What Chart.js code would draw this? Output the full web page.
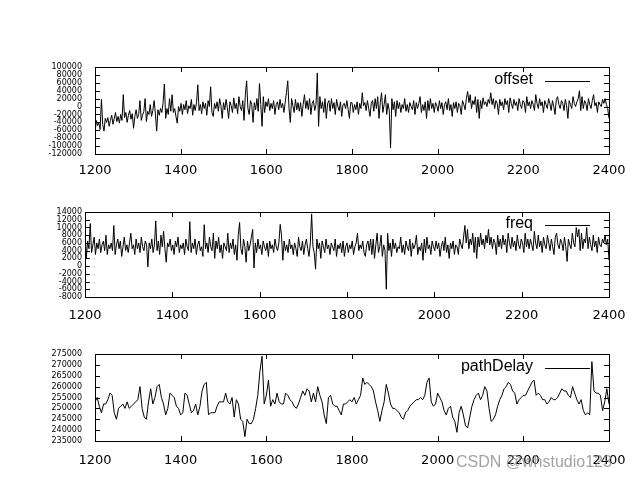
<!DOCTYPE html>
<html>
<head>
<meta charset="utf-8">
<script src="https://cdn.jsdelivr.net/npm/chart.js@4.4.1/dist/chart.umd.min.js"></script>
<style>
  html, body { margin: 0; padding: 0; background: #fff; }
  body { width: 640px; height: 480px; position: relative; overflow: hidden; }
  canvas { position: absolute; left: 0; }
  #mark { position: absolute; left: 456px; top: 453px; font: 16px "Liberation Sans", Arial, sans-serif; color: rgba(140,140,140,0.8); white-space: nowrap; }
</style>
</head>
<body>
<canvas id="c1" width="640" height="150" style="top:40px"></canvas>
<canvas id="c2" width="640" height="145" style="top:190px"></canvas>
<canvas id="c3" width="640" height="145" style="top:335px"></canvas>
<div id="mark">CSDN @whstudio123</div>
<script>
// x axis runs 1200..2400; offset/freq sampled every 3 units, pathDelay every 5
const xStart = 1200;
const xRange = [1200, 2400], xTickStep = 200;

const offsetRange = [-120000, 100000], offsetStep = 20000;
const freqRange = [-8000, 14000], freqStep = 2000;
const delayRange = [235000, 275000], delayStep = 5000;

const offsetVals = [
  -70000, -35000, -48000, -42000, -58000, 18000, -45000, -62000, -30000, -40000, -28000, -50000, -35000, -22000, -45000, -30000, -15000, -38000, -25000, -42000,
  -20000, -35000, 30000, -28000, -15000, -40000, -22000, -10000, -32000, -18000, -55000, -25000, -8000, -30000, -20000, 15000, -35000, -22000, -12000, 20000,
  -38000, -12000, -20000, 5000, -25000, -10000, 15000, -18000, -62000, -8000, -22000, -5000, -15000, 10000, 57000, -30000, -5000, -20000, 20000, -12000,
  30000, -15000, -5000, -25000, -42000, 0, -12000, 8000, -20000, 5000, -8000, 15000, -18000, 2000, -5000, 18000, -22000, 5000, -10000, 10000,
  55000, -10000, 5000, -18000, 12000, -5000, 8000, -22000, 15000, 0, 50000, -15000, -25000, 8000, -5000, 12000, -12000, 20000, 2000, -30000,
  10000, -8000, 18000, -3000, -30000, 12000, 2000, -15000, 22000, -5000, 8000, -18000, 25000, 0, -10000, 15000, -35000, 30000, 65000, -5000,
  -20000, 15000, 5000, -40000, 10000, -8000, 20000, -12000, 58000, 5000, -50000, 25000, -15000, 12000, 0, 20000, -10000, 8000, -5000, 15000,
  -20000, 5000, 12000, -8000, 18000, -3000, 8000, -15000, 10000, 35000, 65000, -5000, -40000, 20000, 2000, -15000, 18000, -8000, 10000, -12000,
  10000, -25000, 5000, 30000, -5000, 15000, -8000, 20000, -20000, 8000, 15000, -10000, 5000, 85000, -50000, 25000, -5000, 12000, -15000, 20000,
  -30000, 8000, 15000, -12000, 20000, -5000, 10000, -20000, 18000, 0, -10000, 12000, -25000, 5000, 8000, -5000, 15000, -8000, -30000, 10000,
  10000, -15000, 5000, -8000, 12000, -20000, 8000, -5000, 35000, 2000, 10000, -10000, 15000, -5000, -25000, 8000, 15000, -12000, 20000, -5000,
  25000, -30000, 10000, 35000, -15000, 5000, 30000, -20000, 8000, -10000, -105000, 20000, -8000, 12000, -25000, 15000, -5000, 10000, -15000, 5000,
  -5000, 20000, -12000, 5000, -15000, 10000, 0, -8000, 15000, -20000, 10000, -5000, 8000, 25000, -15000, 5000, -10000, 12000, -30000, 15000,
  -10000, 20000, -5000, 8000, -15000, 10000, 2000, -12000, 15000, -5000, 10000, -20000, 5000, 12000, -8000, 20000, -10000, 5000, -25000, 10000,
  -5000, 12000, -15000, 8000, 2000, -20000, 15000, 5000, -8000, 20000, 38000, 10000, 30000, -5000, 15000, 5000, 25000, -15000, 18000, -30000,
  15000, -5000, 22000, 5000, 12000, 0, 18000, 8000, 35000, 5000, 20000, -5000, 15000, 8000, -20000, 18000, 2000, 12000, -8000, 20000,
  5000, 15000, -15000, 22000, 8000, -5000, 18000, 3000, 12000, -10000, 20000, 5000, -5000, 15000, 10000, -15000, 25000, 2000, 12000, -5000,
  15000, 5000, -10000, 30000, 8000, -5000, 20000, 2000, 12000, -15000, 15000, 5000, -5000, 20000, 8000, -10000, 15000, 0, -20000, 18000,
  25000, 5000, -5000, 15000, 8000, -10000, 18000, 2000, -30000, 15000, 5000, -5000, 25000, 8000, 0, 12000, 20000, 40000, -10000, 25000,
  -5000, 15000, 8000, -10000, 20000, 5000, -5000, 15000, 30000, 2000, 10000, -15000, 12000, 5000, 0, 18000, 8000, 20000, 5000, -5000,
  -30000
];

const freqVals = [
  9500, 2000, 6500, 4500, 11000, 3500, 5500, 7500, 3000, 6000, 4500, 7000, 3500, 5500, 6500, 4000, 8000, 3000, 5500, 4500,
  6000, 4000, 10500, 3000, 5500, 7000, 4500, 6500, 2500, 5000, 7500, 4000, 5500, 3500, 6000, 8500, 4500, 5500, 3000, 7000,
  4500, 6000, 3500, 7500, 5000, 4000, 6500, 5500, -200, 6000, 4500, 7000, 3500, 5500, 11700, 4000, 6500, 3000, 8000, 5000,
  9000, 4500, 1000, 6000, 5000, 7000, 4000, 5500, 3000, 6500, 5000, 7500, 3500, 5500, 4500, 6000, 3000, 7000, 5000, 4000,
  11500, 3500, 6000, 4500, 7000, 3000, 5500, 6500, 4000, 5000, 2500, 10700, 4500, 6000, 3500, 7500, 5000, 4000, 8500, 2000,
  6500, 4500, 7500, 3500, 5500, 2000, 6000, 5000, 4000, 8500, 3500, 6000, 4500, 7000, 3000, 5500, 1500, 8000, 11300, 4500,
  3000, 7000, 5000, 1000, 6500, 4000, 5500, 7500, 9500, -500, 6000, 3500, 7000, 4500, 5500, 3000, 6500, 5000, 4000, 6000,
  2500, 6500, 4500, 5500, 3500, 7000, 5000, 4000, 6000, 10800, 8000, 1500, 6500, 4000, 5500, 3500, 7000, 4500, 5500, 3000,
  6000, 4500, 2500, 7500, 5000, 4000, 6500, 3000, 5500, 7000, 4500, 2500, 6000, 13500, 5000, 3500, -800, 7000, 4500, 6000,
  2000, 6500, 5000, 3500, 7000, 4500, 5500, 3000, 6000, 5000, 4000, 7000, 2500, 5500, 4500, 6000, 3500, 6500, 2500, 5000,
  6000, 3500, 5500, 4500, 6500, 3000, 5000, 6000, 8500, 4000, 5500, 4500, 6500, 3500, 2500, 5500, 6500, 4000, 7000, 3000,
  7000, 2000, 5500, 8500, 3500, 5000, 8000, 2500, 5500, 4000, -6000, 8500, 4000, 6000, 2500, 7000, 4500, 6000, 3500, 5000,
  4500, 7500, 3500, 5500, 3000, 6500, 5000, 4000, 7000, 2500, 6000, 4500, 5500, 8000, 3000, 5000, 4000, 6000, 1500, 7000,
  3500, 7500, 4500, 5500, 3000, 6500, 5000, 4000, 6500, 4500, 6000, 2500, 5000, 6500, 4000, 7500, 3500, 5500, 2000, 6000,
  4500, 6500, 3000, 5500, 5000, 3000, 7000, 5500, 4500, 7500, 10500, 6000, 9500, 4500, 7000, 5500, 8500, 3500, 7500, 2000,
  7500, 5000, 8500, 5500, 7000, 4500, 8000, 6000, 9500, 5500, 7500, 4500, 7000, 6000, 3000, 8000, 5000, 7000, 4500, 8000,
  5500, 7000, 3500, 8500, 6000, 4500, 7500, 5000, 6500, 4000, 8000, 5500, 4500, 7000, 6000, 3500, 8500, 5000, 7000, 4500,
  7000, 5500, 4000, 9000, 6000, 4500, 8000, 5000, 6500, 3500, 7500, 5500, 4500, 8000, 6000, 4000, 7000, 5000, 3000, 7500,
  8500, 5500, 4500, 7000, 6000, 4000, 7500, 5000, 1200, 7000, 5500, 4500, 8500, 6000, 5000, 10000, 7500, 9500, 4000, 8500,
  4500, 7000, 6000, 10000, 4500, 7500, 5500, 4000, 8000, 5000, 6500, 3500, 7500, 5500, 5000, 7000, 6000, 8000, 5500, 7000,
  1500
];

const delayVals = [
  253000, 255000, 251000, 248000, 252000, 252000, 254000, 257000, 256000, 248000,
  245000, 250000, 251000, 252000, 250000, 253000, 250000, 251000, 252000, 253000,
  254000, 260000, 250000, 246000, 245000, 253000, 259000, 252000, 255000, 260000,
  261000, 255000, 252000, 247000, 250000, 257000, 256000, 255000, 251000, 250000,
  247000, 248000, 257000, 256000, 252000, 248000, 249000, 252000, 247000, 251000,
  258000, 261000, 262000, 247000, 248000, 248000, 248000, 251000, 253000, 253000,
  253000, 257000, 253000, 252000, 255000, 246000, 254000, 252000, 245000, 244000,
  237000, 245000, 243000, 243000, 245000, 250000, 256000, 267000, 274000, 252000,
  256000, 263000, 251000, 254000, 252000, 257000, 253000, 252000, 252000, 257000,
  256000, 254000, 253000, 251000, 250000, 252000, 255000, 258000, 256000, 259000,
  258000, 253000, 257000, 253000, 260000, 256000, 253000, 247000, 243000, 255000,
  256000, 252000, 251000, 251000, 249000, 247000, 252000, 252000, 253000, 254000,
  253000, 255000, 252000, 254000, 256000, 264000, 261000, 262000, 261000, 260000,
  258000, 253000, 249000, 244000, 249000, 253000, 261000, 257000, 252000, 250000,
  250000, 249000, 248000, 246000, 245000, 248000, 249000, 251000, 252000, 253000,
  254000, 254000, 255000, 254000, 256000, 262000, 264000, 253000, 251000, 252000,
  257000, 255000, 253000, 249000, 247000, 250000, 251000, 246000, 244000, 239000,
  248000, 251000, 247000, 242000, 241000, 246000, 251000, 254000, 256000, 257000,
  254000, 256000, 260000, 258000, 250000, 244000, 245000, 247000, 251000, 254000,
  256000, 259000, 260000, 262000, 261000, 258000, 257000, 252000, 254000, 255000,
  256000, 256000, 258000, 260000, 262000, 263000, 256000, 257000, 256000, 254000,
  254000, 252000, 253000, 255000, 254000, 254000, 255000, 257000, 259000, 258000,
  258000, 256000, 255000, 260000, 257000, 254000, 252000, 254000, 249000, 247000,
  248000, 247000, 271500, 258000, 257000, 257000, 256000, 249000, 253000, 259000,
  252000
];

function pts(vals, step) {
  return vals.map((v, i) => ({ x: xStart + i * step, y: v }));
}

// gnuplot style frame: full box with ticks pointing inwards, legend in the corner
const frame = {
  id: 'frame',
  afterDraw(c, args, o) {
    const { ctx, chartArea: a, scales: { x, y } } = c;
    ctx.save();
    ctx.strokeStyle = '#000';
    ctx.lineWidth = 1;
    ctx.strokeRect(a.left + .5, a.top + .5, a.right - a.left, a.bottom - a.top);
    ctx.beginPath();
    x.ticks.forEach(t => {
      const p = Math.round(x.getPixelForValue(t.value)) + .5;
      ctx.moveTo(p, a.bottom); ctx.lineTo(p, a.bottom - 5);
      ctx.moveTo(p, a.top); ctx.lineTo(p, a.top + 5);
    });
    y.ticks.forEach(t => {
      const p = Math.round(y.getPixelForValue(t.value)) + .5;
      ctx.moveTo(a.left, p); ctx.lineTo(a.left + 5, p);
      ctx.moveTo(a.right, p); ctx.lineTo(a.right - 5, p);
    });
    ctx.stroke();
    const ly = a.top + o.dy;
    ctx.font = '16px "Liberation Sans", Arial, sans-serif';
    ctx.fillStyle = '#000';
    ctx.textAlign = 'right';
    ctx.textBaseline = 'middle';
    ctx.fillText(c.data.datasets[0].label, 533, ly);
    ctx.beginPath();
    ctx.moveTo(545, Math.round(ly) + 1.5); ctx.lineTo(590, Math.round(ly) + 1.5);
    ctx.stroke();
    ctx.restore();
  }
};

function panel(id, label, vals, step, range, yStep, cfg) {
  const el = document.getElementById(id);
  return new Chart(el, {
    type: 'line',
    data: { datasets: [{ label: label, data: pts(vals, step), borderColor: '#000', borderWidth: 1, pointRadius: 0, tension: 0, fill: false }] },
    options: {
      responsive: false, animation: false, devicePixelRatio: 1,
      layout: { padding: { top: cfg.top, right: 31, left: 0, bottom: 0 } },
      plugins: { legend: { display: false }, tooltip: { enabled: false }, frame: { dy: cfg.dy } },
      scales: {
        x: {
          type: 'linear', min: xRange[0], max: xRange[1],
          grid: { display: false, drawTicks: false }, border: { display: false },
          ticks: { stepSize: xTickStep, padding: cfg.xpad, color: '#000', maxRotation: 0, autoSkip: false,
            font: { family: 'DejaVu Sans', size: 13 }, callback: v => String(v) },
          afterFit: s => { s.height = el.height - cfg.bottom; }
        },
        y: {
          min: range[0], max: range[1],
          grid: { display: false, drawTicks: false }, border: { display: false },
          ticks: { stepSize: yStep, padding: cfg.ypad, color: '#000', autoSkip: false,
            font: { family: 'DejaVu Sans', size: 8 }, callback: v => String(v) },
          afterFit: s => { s.width = cfg.left; }
        }
      }
    },
    plugins: [frame]
  });
}

panel('c1', 'offset', offsetVals, 3, offsetRange, offsetStep, { top: 27, bottom: 114, left: 95, xpad: 9, ypad: 13, dy: 13 });
panel('c2', 'freq', freqVals, 3, freqRange, freqStep, { top: 22, bottom: 107, left: 85, xpad: 11, ypad: 3, dy: 12 });
panel('c3', 'pathDelay', delayVals, 5, delayRange, delayStep, { top: 19, bottom: 106, left: 95, xpad: 12, ypad: 13, dy: 13 });
</script>
</body>
</html>
